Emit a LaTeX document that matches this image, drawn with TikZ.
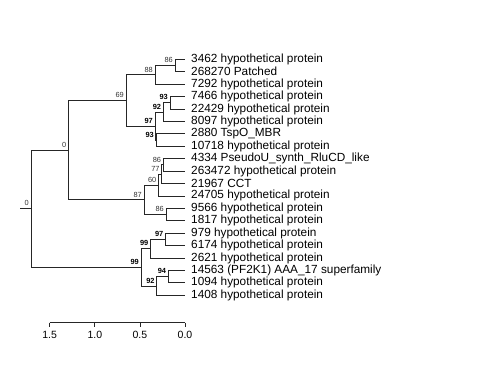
\documentclass[tikz,border=0pt]{standalone}
\usepackage{fontspec}
\setmainfont{Liberation Sans}
\usetikzlibrary{calc}
\tikzset{
  branch/.style={draw=black!85, line width=0.8pt},
  tiplabel/.style={anchor=west, inner sep=0pt, font=\fontsize{11.8}{12}\selectfont},
  boot/.style={anchor=south east, inner sep=0pt, xshift=-2pt, yshift=2.5pt,
    text=black!80, font=\fontsize{7.4}{8}\selectfont},
  bootbold/.style={boot, text=black, font=\fontsize{7.4}{8}\selectfont\bfseries},
  scaletext/.style={anchor=north, inner sep=0pt, font=\fontsize{10.5}{11}\selectfont}
}
% name, x of the split, two children, support value, label style
\newcommand\clade[6]{%
  \path ($(#3)!0.5!(#4)$) coordinate (#1m);
  \coordinate (#1) at (#2,0 |- #1m);
  \draw[branch] (#1) |- (#3);
  \draw[branch] (#1) |- (#4);
  \node[#6] (#1lab) at (#1) {#5};}
\begin{document}
\begin{tikzpicture}[x=1pt, y=-1pt]
  \useasboundingbox (0,0) rectangle (480,384);
  \foreach \lab [count=\i from 0] in {{3462 hypothetical protein},{268270 Patched},
    {7292 hypothetical protein},{7466 hypothetical protein},{22429 hypothetical protein},
    {8097 hypothetical protein},{2880 TspO\_MBR},{10718 hypothetical protein},
    {4334 PseudoU\_synth\_RluCD\_like},{263472 hypothetical protein},{21967 CCT},
    {24705 hypothetical protein},{9566 hypothetical protein},{1817 hypothetical protein},
    {979 hypothetical protein},{6174 hypothetical protein},{2621 hypothetical protein},
    {14563 (PF2K1) AAA\_17 superfamily},{1094 hypothetical protein},{1408 hypothetical protein}}
  {
    \coordinate (t\i) at (185,{59.3+12.42*\i});
    \node[tiplabel] (l\i) at (191,{59.3+12.42*\i}) {\lab};
  }
  \clade{na}{175}{t0}{t1}{86}{boot}
  \clade{nb}{155}{na}{t2}{88}{boot}
  \clade{nc}{170}{t3}{t4}{93}{bootbold}
  \clade{nd}{163.3}{nc}{t5}{92}{bootbold}
  \clade{ne}{156}{t6}{t7}{93}{bootbold}
  \clade{nf}{155}{nd}{ne}{97}{bootbold}
  \clade{ng}{126}{nb}{nf}{69}{boot}
  \clade{nh}{163.3}{t8}{t9}{86}{boot}
  \clade{ni}{161.7}{nh}{t10}{77}{boot}
  \clade{nj}{158.5}{ni}{t11}{60}{boot}
  \clade{nk}{166}{t12}{t13}{86}{boot}
  \clade{nl}{144}{nj}{nk}{87}{boot}
  \clade{nm}{68.5}{ng}{nl}{0}{boot}
  \clade{nn}{165.5}{t14}{t15}{97}{bootbold}
  \clade{no}{150.5}{nn}{t16}{99}{bootbold}
  \clade{np}{168.3}{t17}{t18}{94}{bootbold}
  \clade{nq}{156.7}{np}{t19}{92}{bootbold}
  \clade{nr}{141}{no}{nq}{99}{bootbold}
  \clade{root}{31}{nm}{nr}{0}{boot}
  \coordinate (stub) at (20,0 |- root);
  \draw[branch] (stub) -- (root);
  \foreach \v [count=\k from 0] in {1.5,1.0,0.5,0.0}
  {
    \coordinate (s\k) at ({185-90.2*\v},322.5);
    \draw[branch] (s\k) -- ++(0,4.5);
    \node[scaletext] (sl\k) at ($(s\k)+(0,8.5)$) {\v};
  }
  \draw[branch] (s0) -- (s3);
\end{tikzpicture}
\end{document}
